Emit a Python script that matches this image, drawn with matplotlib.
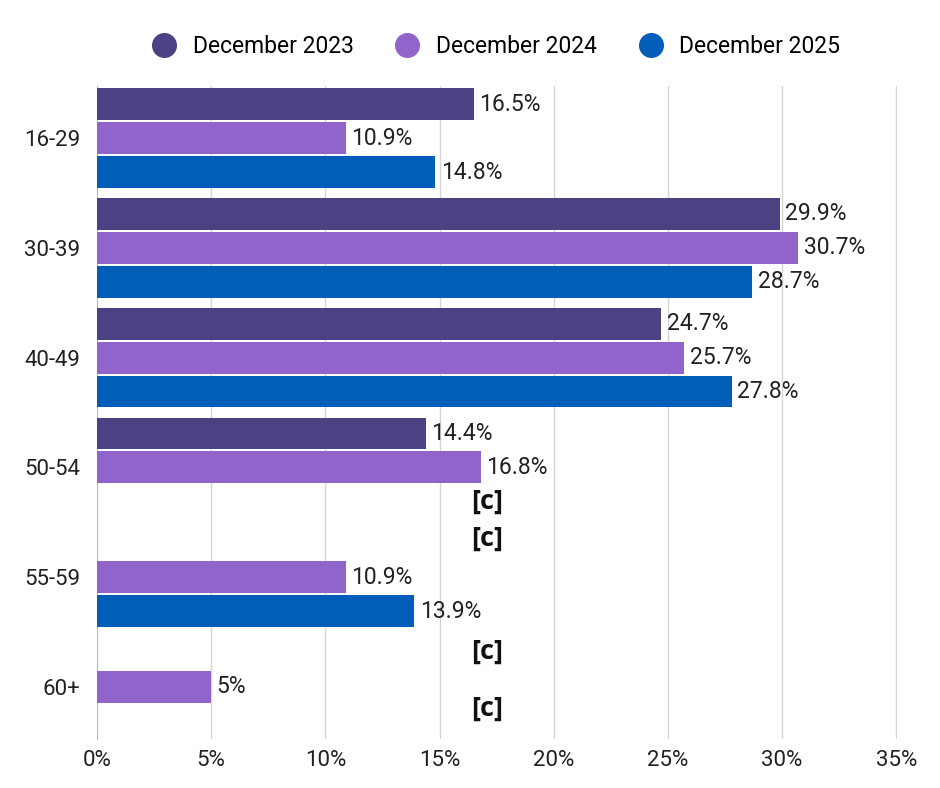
import numpy as np
import matplotlib
matplotlib.use("Agg")
import matplotlib.pyplot as plt
from matplotlib.lines import Line2D

plt.rcParams['font.family'] = ['Roboto', 'DejaVu Sans']

categories = ["16-29", "30-39", "40-49", "50-54", "55-59", "60+"]
series_names = ["December 2023", "December 2024", "December 2025"]
dec_2023 = [16.5, 29.9, 24.7, 14.4, None, None]
dec_2024 = [10.9, 30.7, 25.7, 16.8, 10.9, 5]
dec_2025 = [14.8, 28.7, 27.8, None, 13.9, None]
colors = ["#4c4283", "#9164cc", "#005eb8"]
x_ticks = [0, 5, 10, 15, 20, 25, 30, 35]

fig = plt.figure(figsize=(9.4, 7.88), dpi=100)
ax = fig.add_axes([0.1032, 0.0622, 0.8511, 0.8287])

step = 0.309
height = 0.29
y = np.arange(len(categories))
all_series = [dec_2023, dec_2024, dec_2025]
# nudges (points) for the suppressed-value markers
c_nudge = {(3, 2): 0, (4, 0): 3, (5, 0): 1, (5, 2): 9}

for i, (vals, col) in enumerate(zip(all_series, colors)):
    ypos = y + (i - 1) * step
    for j, v in enumerate(vals):
        if v is None:
            ax.annotate("[c]", (17.1, ypos[j]), xytext=(0, c_nudge.get((j, i), 0)),
                        textcoords="offset points", ha="center", va="center",
                        fontsize=19.5, fontweight="bold", family=["Open Sans", "DejaVu Sans"],
                        color="#111111")
            continue
        ax.barh(ypos[j], v, height=height, color=col, zorder=3)
        ax.annotate(f"{v:g}%", (v, ypos[j]), xytext=(4, 0), textcoords="offset points",
                    ha="left", va="center", fontsize=16.5, color="#222222")

ax.set_xlim(0, 35.03)
ax.set_ylim(len(categories) - 1 + 0.475, -0.475)
ax.set_xticks(x_ticks)
ax.set_xticklabels([f"{t}%" for t in x_ticks], fontsize=16, color="#222222")
ax.set_yticks(y)
ax.set_yticklabels(categories, fontsize=16, color="#222222")
ax.tick_params(axis="both", length=0)
ax.tick_params(axis="x", pad=8)
ax.tick_params(axis="y", pad=12)
ax.grid(axis="x", color="#d6d6d6", linewidth=1, zorder=0)
for s in ["top", "right", "bottom"]:
    ax.spines[s].set_visible(False)
ax.spines["left"].set_color("#bdbdbd")

handles = [Line2D([], [], marker="o", linestyle="", markersize=17, color=c) for c in colors]
fig.legend(handles, series_names, loc="center", bbox_to_anchor=(0.522, 0.941), ncol=3,
           frameon=False, fontsize=16.5, handletextpad=0.25, columnspacing=1.35)

fig.savefig("out.png", dpi=100)
